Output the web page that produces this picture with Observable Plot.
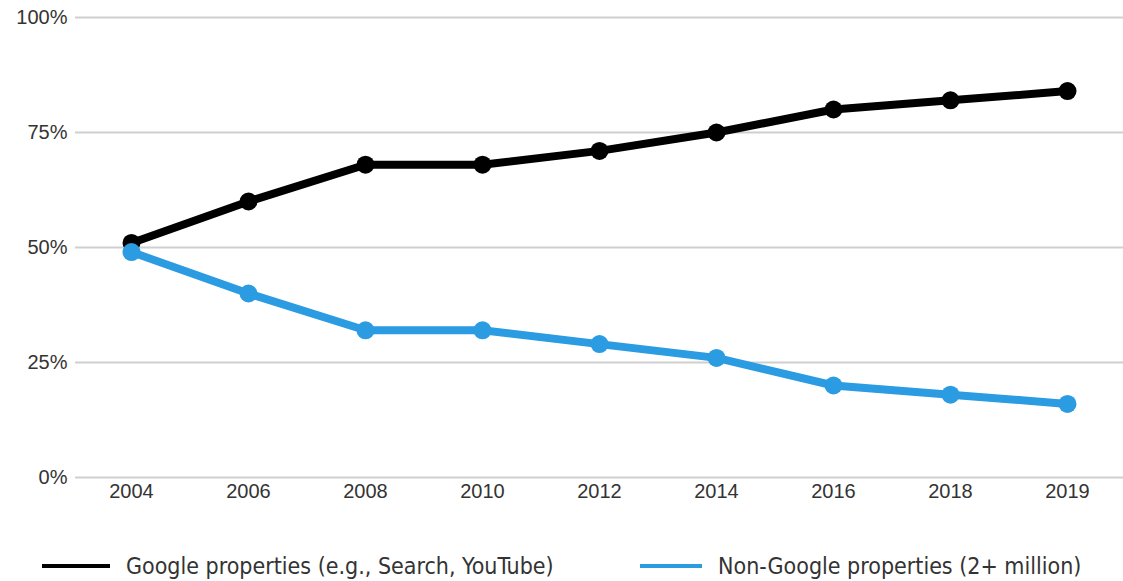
<!DOCTYPE html>
<html>
<head>
<meta charset="utf-8">
<script src="https://cdn.jsdelivr.net/npm/d3@7"></script>
<script src="https://cdn.jsdelivr.net/npm/@observablehq/plot@0.6"></script>
<style>
  body { margin: 0; background: #fff; }
  #chart { position: relative; width: 1123px; }
  .legend { position: relative; height: 46px; font-family: "DejaVu Sans Condensed", "DejaVu Sans", sans-serif; font-stretch: condensed; font-size: 23px; color: #333; }
  .item { position: absolute; top: 18px; display: flex; align-items: center; white-space: nowrap; }
  .swatch { display: inline-block; height: 4px; margin-right: 16px; }
</style>
</head>
<body>
<div id="chart"></div>
<script>
// Share of clicks, by year
const years = ["2004", "2006", "2008", "2010", "2012", "2014", "2016", "2018", "2019"];
const google = [51, 60, 68, 68, 71, 75, 80, 82, 84];
const nonGoogle = [49, 40, 32, 32, 29, 26, 20, 18, 16];
const seriesNames = ["Google properties (e.g., Search, YouTube)", "Non-Google properties (2+ million)"];
const seriesColors = ["#000000", "#2b9be2"];
const yTicks = [0, 25, 50, 75, 100];

const rows = [
  ...years.map((y, i) => ({year: y, value: google[i], series: seriesNames[0]})),
  ...years.map((y, i) => ({year: y, value: nonGoogle[i], series: seriesNames[1]}))
];

const plot = Plot.plot({
  width: 1123,
  height: 535,
  marginLeft: 75,
  marginRight: 0,
  marginTop: 17,
  marginBottom: 58,
  style: {fontFamily: "'Liberation Sans', Arial, sans-serif", fontSize: "20px", color: "#333"},
  x: {type: "point", domain: years, padding: 0.46, label: null},
  y: {domain: [0, 100], label: null},
  color: {domain: seriesNames, range: seriesColors},
  marks: [
    Plot.gridY(yTicks, {stroke: "#cfcfcf", strokeOpacity: 1, strokeWidth: 2}),
    Plot.axisY({ticks: yTicks, tickFormat: d => d + "%", tickSize: 0, tickPadding: 8, label: null, fontSize: 20}),
    Plot.axisX({tickSize: 0, tickPadding: 6, label: null, fontSize: 20}),
    Plot.line(rows, {x: "year", y: "value", z: "series", stroke: "series", strokeWidth: 8, strokeLinejoin: "round", strokeLinecap: "round"}),
    Plot.dot(rows, {x: "year", y: "value", fill: "series", r: 9})
  ]
});

const chart = document.getElementById("chart");
chart.appendChild(plot);

// Legend below the chart
const legend = document.createElement("div");
legend.className = "legend";
const lefts = [42, 640];
const widths = [68, 62];
seriesNames.forEach((name, i) => {
  const item = document.createElement("div");
  item.className = "item";
  item.style.left = lefts[i] + "px";
  const sw = document.createElement("span");
  sw.className = "swatch";
  sw.style.width = widths[i] + "px";
  sw.style.background = seriesColors[i];
  const label = document.createElement("span");
  label.textContent = name;
  item.appendChild(sw);
  item.appendChild(label);
  legend.appendChild(item);
});
chart.appendChild(legend);
</script>
</body>
</html>
